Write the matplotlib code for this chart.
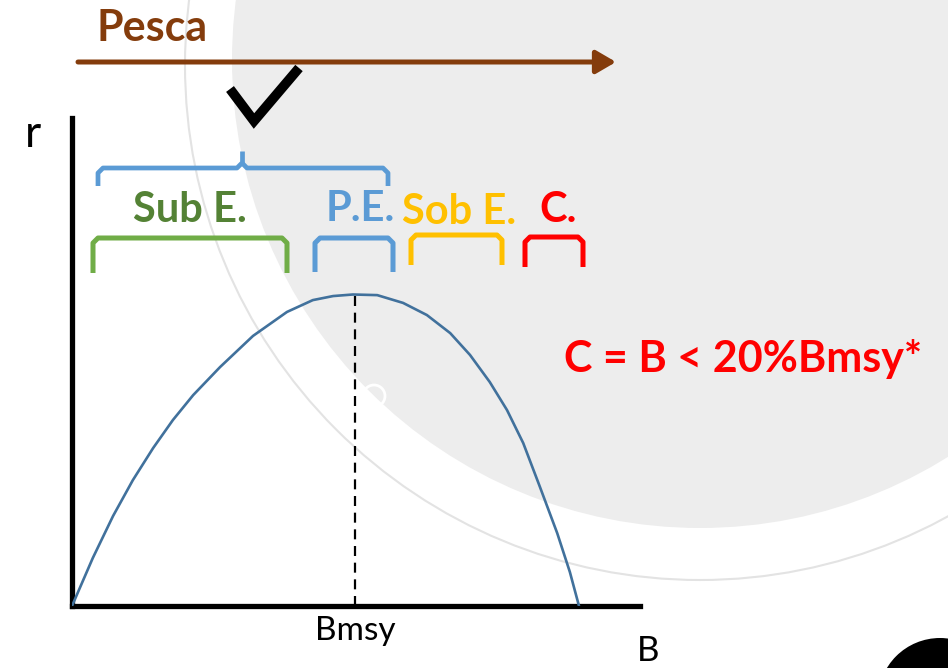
import numpy as np
import matplotlib
matplotlib.use("Agg")
import matplotlib.pyplot as plt
from matplotlib.patches import Circle, FancyArrowPatch

plt.rcParams['font.family'] = ['Lato', 'DejaVu Sans']

# curve: B relative to K, r relative to max
B = [0.0, 0.041, 0.081, 0.120, 0.160, 0.199, 0.239, 0.292, 0.357, 0.424,
     0.475, 0.515, 0.554, 0.602, 0.653, 0.700, 0.746, 0.785, 0.824, 0.858,
     0.890, 0.923, 0.957, 0.982, 1.0]
r = [0.0, 0.154, 0.289, 0.404, 0.507, 0.597, 0.677, 0.767, 0.867, 0.944,
     0.982, 0.995, 1.0, 0.998, 0.973, 0.934, 0.876, 0.806, 0.719, 0.629,
     0.523, 0.382, 0.234, 0.109, 0.0]
bmsy = 0.558
r_max = 1.0

labels = ['Sub E.', 'P.E.', 'Sob E.', 'C.']
label_cols = ['#548235', '#5B9BD5', '#FFC000', '#FF0000']
bracket_cols = ['#70AD47', '#5B9BD5', '#FFC000', '#FF0000']

W, H = 948, 668
fig = plt.figure(figsize=(W / 100, H / 100), dpi=100)

# background / decoration layer in pixel coords
bg = fig.add_axes([0, 0, 1, 1])
bg.set_xlim(0, W)
bg.set_ylim(H, 0)
bg.axis('off')
bg.add_patch(Circle((700, 60), 468, color='#EDEDED', lw=0, zorder=0))
bg.add_patch(Circle((700, 65), 515, fill=False, ec='#E3E3E3', lw=1.5, zorder=0.5))
bg.add_patch(Circle((374, 396), 11, fill=False, ec='white', lw=2, zorder=0.6))
bg.add_patch(Circle((940, 700), 62, color='black', lw=0, zorder=1))

# Pesca arrow
bg.text(97, 41, 'Pesca', color='#843C0C', fontsize=31, fontweight='bold',
        ha='left', va='baseline')
bg.add_patch(FancyArrowPatch((78, 62), (616, 62), arrowstyle='-|>,head_length=12,head_width=7',
                             color='#843C0C', lw=3.6, mutation_scale=1, shrinkA=0, shrinkB=0))

# check mark
bg.plot([230, 254, 299], [89, 121, 68], color='black', lw=7, solid_joinstyle='miter',
        solid_capstyle='butt')

# big brace over Sub E. + P.E.
bl = '#5B9BD5'
bg.plot([98, 98, 103, 237, 242], [186, 173, 168, 168, 163], color=bl, lw=3.4,
        solid_capstyle='butt')
bg.plot([242, 247, 383, 388, 388], [163, 168, 168, 173, 186], color=bl, lw=3.4,
        solid_capstyle='butt')
bg.plot([242, 242], [163, 151], color=bl, lw=3.4, solid_capstyle='butt')

# small brackets
spans = [(93, 287, 238, 273), (315, 393, 238, 272), (411, 502, 235, 265), (525, 583, 237, 267)]
for (x0, x1, yt, yb), c in zip(spans, bracket_cols):
    bg.plot([x0, x0, x0 + 5, x1 - 5, x1, x1], [yb, yt + 5, yt, yt, yt + 5, yb],
            color=c, lw=3.6, solid_capstyle='butt', solid_joinstyle='round')

label_x = [190, 360, 459, 558]
label_base = [222, 221, 224, 222]
for t, c, x, y in zip(labels, label_cols, label_x, label_base):
    bg.text(x, y, t, color=c, fontsize=30, fontweight='bold', ha='center', va='baseline')

bg.text(743, 372, 'C = B < 20%Bmsy*', color='#FF0000', fontsize=31, fontweight='bold',
        ha='center', va='baseline')
bg.text(33, 147, 'r', color='black', fontsize=32, ha='center', va='baseline')
bg.text(648, 661, 'B', color='black', fontsize=25, ha='center', va='baseline')

# the chart itself
ax = fig.add_axes([72 / W, 1 - 606 / H, (640 - 72) / W, (606 - 118) / H])
ax.patch.set_alpha(0)
ax.set_xlim(0, 568 / 507)
ax.set_ylim(0, 488 / 311.5)
ax.plot(B, r, color='#41719C', lw=1.9, zorder=3, solid_joinstyle='round')
ax.plot([bmsy, bmsy], [0, r_max], color='black', lw=1.6, ls=(0, (4.5, 3)), zorder=2)
for s in ['top', 'right']:
    ax.spines[s].set_visible(False)
for s in ['left', 'bottom']:
    ax.spines[s].set_linewidth(3.8)
    ax.spines[s].set_color('black')
ax.set_yticks([])
ax.set_xticks([bmsy])
ax.set_xticklabels(['Bmsy'], fontsize=24)
ax.tick_params(axis='x', length=0, pad=7)

fig.savefig('out.png', dpi=100)
